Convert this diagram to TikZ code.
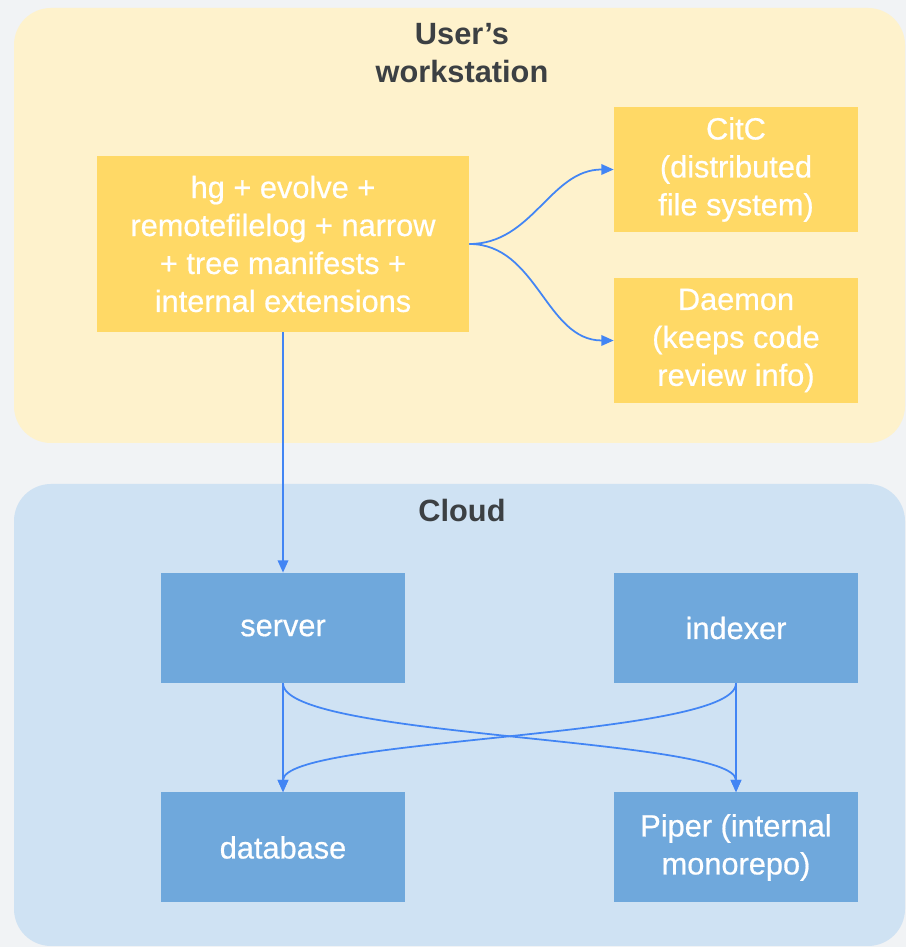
\documentclass[tikz,border=0pt]{standalone}
\usepackage{fontspec}
\setmainfont{Liberation Sans}
\newfontfamily\medfont{Liberation Sans}[FakeBold=0.6]
\usetikzlibrary{arrows.meta, positioning}
\definecolor{pagegray}{RGB}{241,243,245}
\definecolor{wsyellow}{RGB}{254,242,204}
\definecolor{boxyellow}{RGB}{255,217,102}
\definecolor{cloudblue}{RGB}{207,226,243}
\definecolor{boxblue}{RGB}{111,168,220}
\definecolor{linkblue}{RGB}{66,133,244}
\definecolor{titlegray}{RGB}{60,64,67}

\begin{document}
\begin{tikzpicture}[
  box/.style={text=white, align=center, inner sep=0pt, font=\medfont\fontsize{17.5}{21.6}\selectfont},
  ybox/.style={box, fill=boxyellow, minimum width=4.88cm, minimum height=2.5cm},
  bbox/.style={box, fill=boxblue, minimum width=4.88cm, minimum height=2.2cm},
  grouptitle/.style={text=titlegray, align=center, font=\bfseries\fontsize{17.5}{21.6}\selectfont},
  link/.style={linkblue, line width=1pt, -{Triangle[length=7pt,width=6pt]}}
]
  \fill[pagegray] (0,0) rectangle (18.12,18.94);
  \useasboundingbox (0,0) rectangle (18.12,18.94);
  % groups
  \fill[wsyellow, rounded corners=0.74cm] (0.28,10.08) rectangle (18.10,18.78);
  \fill[cloudblue, rounded corners=0.74cm] (0.28,0.02) rectangle (18.10,9.26);
  \node[grouptitle] (wstitle) at (9.24,17.88) {User’s\\workstation};
  \node[grouptitle] (cloudtitle) at (9.24,8.72) {Cloud};
  % workstation
  \node[ybox, minimum width=7.44cm, minimum height=3.52cm] (hg) at (5.66,14.06)
    {hg + evolve +\\remotefilelog + narrow\\+ tree manifests +\\internal extensions};
  \node[ybox] (citc) at (14.72,15.55) {CitC\\(distributed\\file system)};
  \node[ybox] (daemon) at (14.72,12.13) {Daemon\\(keeps code\\review info)};
  % cloud
  \node[bbox] (server) at (5.66,6.38) {server};
  \node[bbox] (indexer) at (14.72,6.38) {indexer};
  \node[bbox] (database) at (5.66,1.99) {database};
  \node[bbox] (piper) at (14.72,1.99) {Piper (internal\\monorepo)};
  % links
  \draw[link] (hg.east) to[out=0, in=180] (citc.west);
  \draw[link] (hg.east) to[out=0, in=180] (daemon.west);
  \draw[link] (hg.south) -- (server.north);
  \draw[link] (server.south) -- (database.north);
  \draw[link] (indexer.south) -- (piper.north);
  \draw[link] (server.south) .. controls +(0,-1.1) and +(0,1.1) .. (piper.north);
  \draw[link] (indexer.south) .. controls +(0,-1.1) and +(0,1.1) .. (database.north);
\end{tikzpicture}
\end{document}
